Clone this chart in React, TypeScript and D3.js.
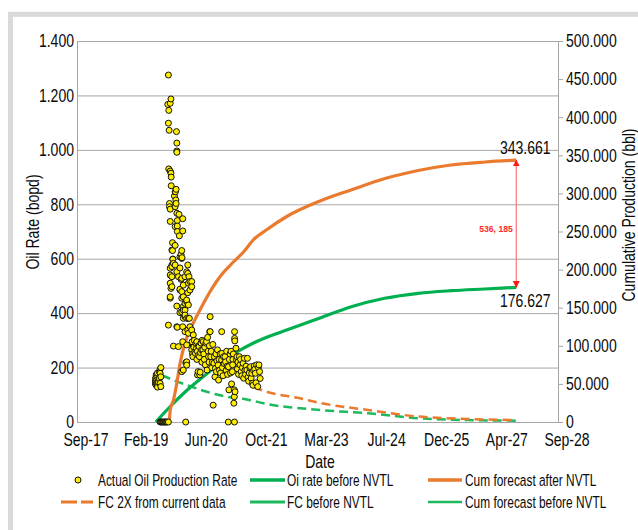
import React from "react";
import * as d3 from "d3";

// ---------- DATA ----------
const xTickDates = ["2017-09-22", "2019-02-04", "2020-06-18", "2021-10-31", "2023-03-14", "2024-07-26", "2025-12-08", "2027-04-22", "2028-09-03"];
const rateTicks = [0, 200, 400, 600, 800, 1000, 1200, 1400];
const cumTicks = [0, 50000, 100000, 150000, 200000, 250000, 300000, 350000, 400000, 450000, 500000];

const actualRate: [string, number][] = [
  ["2019-07-06", 160], ["2019-07-06", 150], ["2019-07-06", 140], ["2019-07-12", 173], ["2019-07-12", 148], ["2019-07-12", 135],
  ["2019-07-18", 165], ["2019-07-18", 155], ["2019-07-23", 136], ["2019-07-23", 128], ["2019-07-23", 180], ["2019-07-31", 154],
  ["2019-07-31", 145], ["2019-08-08", 185], ["2019-08-08", 160], ["2019-08-14", 194], ["2019-08-14", 142], ["2019-08-14", 179],
  ["2019-08-20", 130], ["2019-08-20", 166], ["2019-08-20", 200],
  ["2019-08-14", 0], ["2019-08-22", 0], ["2019-08-30", 0], ["2019-09-08", 0], ["2019-09-16", 0], ["2019-09-25", 0], ["2019-10-03", 0],
  ["2019-10-11", 0], ["2019-10-22", 0], ["2020-03-14", 0], ["2021-03-03", 0], ["2021-04-23", 0],
  ["2019-10-22", 1275], ["2019-10-22", 356], ["2019-10-17", 1167], ["2019-10-25", 1145], ["2019-10-25", 930], ["2019-10-22", 1098],
  ["2019-10-28", 1072], ["2019-10-31", 803], ["2019-10-31", 791],
  ["2019-11-06", 1171], ["2019-11-06", 922], ["2019-11-06", 782], ["2019-11-06", 565], ["2019-11-06", 455], ["2019-11-06", 737],
  ["2019-11-06", 540], ["2019-11-06", 510], ["2019-11-06", 460], ["2019-11-12", 1187], ["2019-11-12", 914], ["2019-11-12", 491],
  ["2019-11-14", 900], ["2019-11-14", 868], ["2019-11-20", 577], ["2019-11-20", 632], ["2019-11-20", 571], ["2019-11-20", 534],
  ["2019-11-20", 497], ["2019-11-25", 659], ["2019-11-25", 630], ["2019-11-28", 599], ["2019-11-28", 598], ["2019-12-03", 279],
  ["2019-12-03", 583], ["2019-12-11", 830], ["2019-12-17", 846], ["2019-12-17", 718], ["2019-12-17", 649], ["2019-12-17", 791],
  ["2019-12-17", 577], ["2019-12-19", 846], ["2019-12-23", 816], ["2019-12-25", 855], ["2019-12-25", 803], ["2019-12-28", 1067],
  ["2019-12-31", 1025], ["2019-12-31", 996], ["2019-12-31", 991], ["2019-12-31", 767], ["2019-12-31", 350], ["2019-12-31", 552],
  ["2019-12-31", 426], ["2020-01-04", 740], ["2020-01-04", 720], ["2020-01-04", 700], ["2020-01-04", 348], ["2020-01-13", 277],
  ["2020-01-13", 534], ["2020-01-18", 763], ["2020-01-21", 684], ["2020-01-26", 566], ["2020-01-26", 485], ["2020-01-26", 607],
  ["2020-01-26", 488], ["2020-01-26", 402], ["2020-02-04", 616], ["2020-02-04", 524], ["2020-02-10", 630], ["2020-02-10", 528],
  ["2020-02-10", 455], ["2020-02-10", 405], ["2020-02-10", 185], ["2020-02-10", 601], ["2020-02-10", 479], ["2020-02-12", 604],
  ["2020-02-18", 747], ["2020-02-18", 702], ["2020-02-18", 350], ["2020-02-18", 295], ["2020-02-23", 503], ["2020-02-23", 424],
  ["2020-02-23", 191], ["2020-02-23", 460], ["2020-02-23", 411], ["2020-02-23", 381], ["2020-03-08", 534], ["2020-03-08", 411],
  ["2020-03-08", 387], ["2020-03-08", 332], ["2020-03-08", 436], ["2020-03-08", 393], ["2020-03-14", 218], ["2020-03-22", 552],
  ["2020-03-22", 442], ["2020-03-22", 381], ["2020-03-22", 283], ["2020-03-22", 219], ["2020-03-22", 221], ["2020-03-22", 209],
  ["2020-03-22", 448], ["2020-03-31", 577], ["2020-03-31", 546], ["2020-03-31", 475], ["2020-03-31", 338], ["2020-04-05", 510],
  ["2020-04-05", 326], ["2020-04-05", 430], ["2020-04-05", 381], ["2020-04-10", 534], ["2020-04-13", 381], ["2020-04-18", 485],
  ["2020-04-18", 350], ["2020-04-18", 516], ["2020-05-03", 516], ["2020-05-03", 338], ["2020-05-03", 265], ["2020-05-03", 497],
  ["2020-05-16", 320], ["2020-05-16", 283],
  ["2020-05-06", 295], ["2020-05-10", 250], ["2020-05-12", 240], ["2020-05-20", 275], ["2020-05-24", 300], ["2020-05-28", 258],
  ["2020-06-03", 252], ["2020-06-07", 289], ["2020-06-10", 270], ["2020-06-14", 230], ["2020-06-14", 295], ["2020-06-18", 260],
  ["2020-06-20", 173], ["2020-06-24", 185], ["2020-06-27", 245], ["2020-06-29", 280],
  ["2020-07-03", 277], ["2020-07-06", 240], ["2020-07-09", 173], ["2020-07-12", 183], ["2020-07-15", 255], ["2020-07-19", 290],
  ["2020-07-23", 265], ["2020-07-26", 220], ["2020-07-29", 300],
  ["2020-08-03", 265], ["2020-08-07", 295], ["2020-08-11", 250], ["2020-08-15", 230], ["2020-08-19", 275], ["2020-08-24", 210], ["2020-08-28", 290],
  ["2020-09-03", 295], ["2020-09-07", 191], ["2020-09-12", 311], ["2020-09-16", 260], ["2020-09-20", 240], ["2020-09-24", 220],
  ["2020-09-27", 280], ["2020-09-29", 332],
  ["2020-10-03", 332], ["2020-10-03", 387], ["2020-10-08", 240], ["2020-10-12", 260], ["2020-10-17", 200], ["2020-10-21", 220],
  ["2020-10-28", 62], ["2020-10-25", 285],
  ["2020-11-03", 216], ["2020-11-07", 240], ["2020-11-12", 166], ["2020-11-16", 197], ["2020-11-20", 250], ["2020-11-24", 185], ["2020-11-28", 225],
  ["2020-12-03", 265], ["2020-12-08", 209], ["2020-12-12", 154], ["2020-12-16", 230], ["2020-12-20", 190], ["2020-12-25", 250], ["2020-12-29", 180],
  ["2021-01-06", 228], ["2021-01-08", 252], ["2021-01-07", 332], ["2021-01-13", 200], ["2021-01-18", 170], ["2021-01-22", 240], ["2021-01-27", 215],
  ["2021-02-03", 240], ["2021-02-08", 221], ["2021-02-13", 190], ["2021-02-17", 260], ["2021-02-21", 205], ["2021-02-25", 175],
  ["2021-03-04", 203], ["2021-03-08", 118], ["2021-03-12", 230], ["2021-03-17", 250], ["2021-03-21", 180], ["2021-03-26", 260], ["2021-03-30", 140],
  ["2021-04-05", 185], ["2021-04-18", 69], ["2021-04-22", 93], ["2021-04-22", 118], ["2021-04-24", 332], ["2021-04-24", 307],
  ["2021-04-26", 298], ["2021-04-10", 230], ["2021-04-14", 250], ["2021-04-08", 210], ["2021-04-28", 111],
  ["2021-05-06", 271], ["2021-05-10", 228], ["2021-05-14", 240], ["2021-05-18", 195], ["2021-05-22", 220], ["2021-05-27", 175],
  ["2021-06-03", 240], ["2021-06-08", 210], ["2021-06-13", 230], ["2021-06-18", 185], ["2021-06-23", 170], ["2021-06-28", 200],
  ["2021-07-04", 216], ["2021-07-09", 161], ["2021-07-14", 234], ["2021-07-19", 190], ["2021-07-24", 175], ["2021-07-29", 205],
  ["2021-08-04", 191], ["2021-08-09", 234], ["2021-08-14", 165], ["2021-08-19", 150], ["2021-08-24", 180], ["2021-08-29", 200],
  ["2021-09-04", 203], ["2021-09-09", 161], ["2021-09-14", 179], ["2021-09-19", 142], ["2021-09-24", 135], ["2021-09-29", 190],
  ["2021-10-04", 206], ["2021-10-09", 194], ["2021-10-14", 179], ["2021-10-19", 144], ["2021-10-24", 210],
  ["2021-11-03", 130], ["2021-11-08", 200], ["2021-11-13", 210], ["2021-11-18", 185], ["2021-11-23", 160],
];

const cumAfterNVTL: [string, number][] = [
  ["2019-08-14", 0], ["2019-10-28", 0], ["2019-11-06", 15750], ["2019-12-03", 28870], ["2019-12-31", 51180], ["2020-01-26", 76120],
  ["2020-02-23", 95800], ["2020-03-22", 110240], ["2020-05-03", 125980], ["2020-06-14", 139110], ["2020-08-08", 155510],
  ["2020-10-03", 171260], ["2020-11-28", 185040], ["2021-01-21", 196190], ["2021-04-14", 209970], ["2021-07-07", 223100],
  ["2021-09-26", 238840], ["2022-01-19", 252630], ["2022-07-02", 269690], ["2023-04-05", 290030], ["2023-12-18", 304460],
  ["2024-09-26", 319560], ["2025-06-28", 330050], ["2026-03-29", 337270], ["2027-01-06", 341210], ["2027-09-22", 343661],
];

const cumBeforeNVTL: [string, number][] = [
  ["2019-07-09", 0], ["2019-11-06", 20340], ["2020-03-22", 41340], ["2020-08-08", 59710], ["2020-12-24", 76770],
  ["2021-05-13", 91860], ["2021-09-29", 103670], ["2022-02-13", 112860], ["2022-07-01", 120730], ["2022-11-17", 128610],
  ["2023-04-05", 136480], ["2023-12-20", 151180], ["2024-09-23", 162340], ["2025-06-28", 168900], ["2026-04-01", 172310],
  ["2027-01-03", 174540], ["2027-09-22", 176627],
];

const fcBeforeNVTL: [string, number][] = [
  ["2019-08-28", 172], ["2019-12-03", 154], ["2020-03-22", 136], ["2020-09-06", 111], ["2021-02-18", 93], ["2021-08-04", 83],
  ["2022-01-19", 66], ["2023-04-05", 44], ["2024-05-08", 32], ["2025-06-28", 14], ["2026-08-17", 7], ["2027-09-22", 5],
];

const fc2xCurrent: [string, number][] = [
  ["2021-09-29", 128], ["2022-01-17", 111], ["2022-10-21", 87], ["2023-04-05", 70], ["2024-05-08", 44], ["2025-06-28", 20],
  ["2026-08-17", 11], ["2027-09-22", 7],
];

const seriesNames = [
  "Actual Oil Production Rate", "Oi rate before NVTL", "Cum forecast after NVTL",
  "FC 2X from current data", "FC before NVTL", "Cum forecast before NVTL",
];
const gapLabel = "536, 185";
const axisTitles = ["Date", "Oil Rate (bopd)", "Cumulative Production (bbl)"];

// ---------- STYLE ----------
const ORANGE = "#ea7a2e";
const GREEN = "#00b050";
const GREEN_LIGHT = "#1cba5c";
const GRID = "#a6a6a6";
const FONT = "'Liberation Sans', Arial, sans-serif";
const SX = 0.78;

const locale = d3.formatLocale({ decimal: ",", thousands: ".", grouping: [3], currency: ["", ""] });
const fmt = locale.format(",");
const fmtDate = d3.utcFormat("%b-%y");
const parse = d3.utcParse("%Y-%m-%d");

function T({ x, y, size, anchor = "start", rotate = 0, sx = SX, fill = "#0a0a0a", weight = 400, children }: any) {
  return (
    <text
      transform={`translate(${x},${y})${rotate ? ` rotate(${rotate})` : ""} scale(${sx},1)`}
      fontSize={size}
      textAnchor={anchor}
      dy="0.35em"
      fill={fill}
      fontWeight={weight}
      fontFamily={FONT}
    >
      {children}
    </text>
  );
}

export default function App() {
  const W = 638, H = 530;
  const L = 77, R = 558, TOP = 41, BOT = 422;

  const x = d3.scaleUtc().domain([parse(xTickDates[0])!, parse(xTickDates[xTickDates.length - 1])!]).range([L, R]);
  const yL = d3.scaleLinear().domain([0, 1400]).range([BOT, TOP]);
  const yR = d3.scaleLinear().domain([0, 500000]).range([BOT, TOP]);

  const lineL = d3.line<[string, number]>().x((d) => x(parse(d[0])!)).y((d) => yL(d[1])).curve(d3.curveMonotoneX);
  const lineR = d3.line<[string, number]>().x((d) => x(parse(d[0])!)).y((d) => yR(d[1])).curve(d3.curveMonotoneX);

  const endA = cumAfterNVTL[cumAfterNVTL.length - 1];
  const endB = cumBeforeNVTL[cumBeforeNVTL.length - 1];
  const ex = x(parse(endA[0])!);

  const legendCols = [
    { sym0: 61, sym1: 93, text: 98 },
    { sym0: 250, sym1: 285, text: 287 },
    { sym0: 428, sym1: 462, text: 465 },
  ];
  const legendRowsY = [480, 502];
  const legendSyms = [
    { kind: "dot" }, { kind: "line", color: GREEN, w: 3.5 }, { kind: "line", color: ORANGE, w: 3.5 },
    { kind: "dash", color: ORANGE, w: 3 }, { kind: "line", color: GREEN_LIGHT, w: 3 }, { kind: "line", color: GREEN_LIGHT, w: 2.5 },
  ];

  return (
    <svg width={W} height={H} style={{ position: "absolute", left: 0, top: 0, background: "#fff" }}>
      <defs>
        <marker id="arr" viewBox="0 0 10 10" refX="9" refY="5" markerWidth="7" markerHeight="7" markerUnits="userSpaceOnUse" orient="auto-start-reverse">
          <path d="M0,0 L10,5 L0,10 z" fill="#ff1a1a" />
        </marker>
      </defs>
      <rect x={10.5} y={14.3} width={700} height={600} fill="none" stroke="#d9d9d9" strokeWidth={5} />

      {/* grid */}
      {rateTicks.map((t) => (
        <line key={"g" + t} x1={L} x2={R} y1={yL(t) + 0.5} y2={yL(t) + 0.5} stroke={GRID} strokeWidth={1} />
      ))}
      <line x1={L + 0.5} x2={L + 0.5} y1={TOP} y2={BOT} stroke={GRID} />
      <line x1={R + 0.5} x2={R + 0.5} y1={TOP} y2={BOT} stroke={GRID} />
      {cumTicks.map((t) => (
        <line key={"rt" + t} x1={R} x2={R + 5} y1={yR(t) + 0.5} y2={yR(t) + 0.5} stroke={GRID} />
      ))}

      {/* tick labels */}
      {rateTicks.map((t) => (
        <T key={"lt" + t} x={74} y={yL(t)} size={18} anchor="end">{fmt(t)}</T>
      ))}
      {cumTicks.map((t) => (
        <T key={"rl" + t} x={566} y={yR(t)} size={18}>{fmt(t)}</T>
      ))}
      {xTickDates.map((d) => (
        <T key={"xt" + d} x={x(parse(d)!) + 9} y={439.5} size={18} anchor="middle">{fmtDate(parse(d)!)}</T>
      ))}

      {/* axis titles */}
      <T x={320} y={462} size={18} anchor="middle">{axisTitles[0]}</T>
      <T x={33} y={222} size={18} anchor="middle" rotate={-90}>{axisTitles[1]}</T>
      <T x={628.5} y={215} size={18} anchor="middle" rotate={-90}>{axisTitles[2]}</T>

      {/* series */}
      <path d={lineL(fcBeforeNVTL)!} fill="none" stroke={GREEN_LIGHT} strokeWidth={2.5} strokeDasharray="9,5" />
      <path d={lineL(fc2xCurrent)!} fill="none" stroke={ORANGE} strokeWidth={2.5} strokeDasharray="9,5" />
      <path d={lineR(cumBeforeNVTL)!} fill="none" stroke={GREEN} strokeWidth={3.2} />
      <path d={lineR(cumAfterNVTL)!} fill="none" stroke={ORANGE} strokeWidth={3.2} />
      {actualRate.map((d, i) => (
        <circle key={"p" + i} cx={x(parse(d[0])!)} cy={yL(d[1])} r={3} fill="#ffee00" stroke="#111" strokeWidth={1} />
      ))}

      {/* annotation */}
      <line x1={ex} x2={ex} y1={yR(endA[1])} y2={yR(endB[1])} stroke="#ff7b7b" strokeWidth={1.3} markerStart="url(#arr)" markerEnd="url(#arr)" />
      <T x={ex + 9} y={yR(endA[1]) - 12} size={18} anchor="middle">{fmt(endA[1])}</T>
      <T x={ex + 9} y={yR(endB[1]) + 13} size={18} anchor="middle">{fmt(endB[1])}</T>
      <T x={496} y={(yR(endA[1]) + yR(endB[1])) / 2 + 5} size={8.6} anchor="middle" sx={1} weight={700} fill="#ff2a2a">{gapLabel}</T>

      {/* legend */}
      {seriesNames.map((name, i) => {
        const col = legendCols[i % 3];
        const y = legendRowsY[Math.floor(i / 3)];
        const s: any = legendSyms[i];
        return (
          <g key={"lg" + i}>
            {s.kind === "dot" && <circle cx={78} cy={y} r={3} fill="#ffee00" stroke="#111" strokeWidth={1} />}
            {s.kind === "line" && <line x1={col.sym0} x2={col.sym1} y1={y} y2={y} stroke={s.color} strokeWidth={s.w} />}
            {s.kind === "dash" && <line x1={col.sym0} x2={col.sym1} y1={y} y2={y} stroke={s.color} strokeWidth={s.w} strokeDasharray="16,4" />}
            <T x={col.text} y={y} size={17} sx={0.7}>{name}</T>
          </g>
        );
      })}
    </svg>
  );
}
